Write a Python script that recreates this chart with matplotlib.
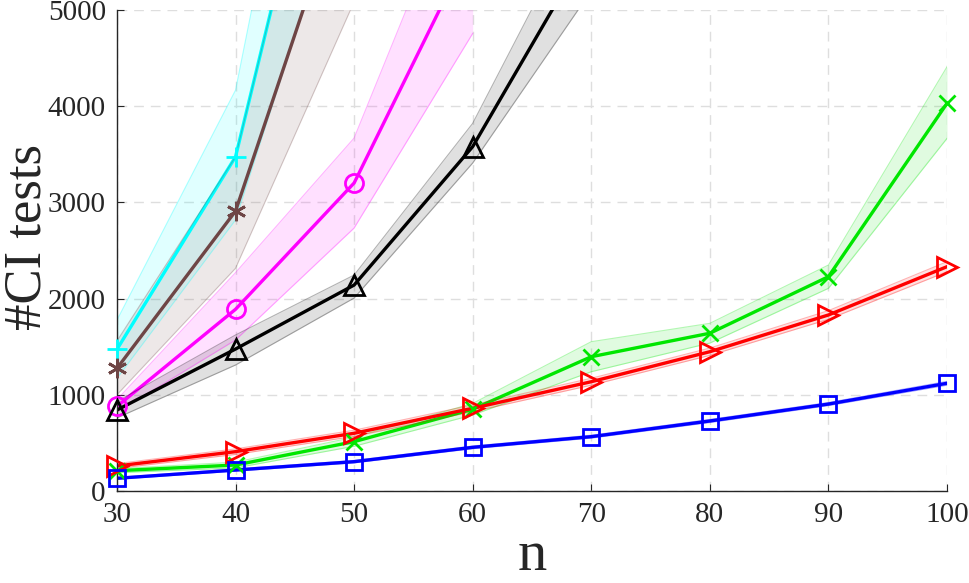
import numpy as np
import matplotlib
matplotlib.use("Agg")
from matplotlib import pyplot as plt

plt.rcParams["font.family"] = ["Liberation Serif", "DejaVu Serif"]

# data (mean, lower and upper edge of the shaded band)
n_full = [30, 40, 50, 60, 70, 80, 90, 100]

blue_mean = [132, 218, 305, 454, 565, 728, 904, 1120]
blue_lo = [122, 206, 292, 440, 550, 712, 888, 1100]
blue_hi = [142, 230, 318, 468, 580, 744, 920, 1140]

red_mean = [260, 409, 600, 860, 1136, 1448, 1830, 2332]
red_lo = [235, 380, 568, 825, 1100, 1410, 1785, 2280]
red_hi = [285, 438, 632, 895, 1172, 1486, 1875, 2384]

green_mean = [211, 270, 513, 850, 1396, 1640, 2228, 4030]
green_lo = [190, 240, 465, 790, 1240, 1538, 2107, 3666]
green_hi = [232, 300, 560, 910, 1552, 1743, 2349, 4410]

n_black = [30, 40, 50, 60, 70]
black_mean = [842, 1476, 2141, 3580, 5700]
black_lo = [760, 1310, 2006, 3410, 5200]
black_hi = [930, 1622, 2245, 3822, 6200]

n_magenta = [30, 40, 50, 60]
magenta_mean = [880, 1889, 3202, 5700]
magenta_lo = [820, 1570, 2734, 4757]
magenta_hi = [950, 2270, 3669, 6700]

n_cyan = [30, 40, 50]
cyan_mean = [1473, 3475, 8555]
cyan_lo = [1170, 2817, 6650]
cyan_hi = [1777, 4168, 10320]

brown_mean = [1275, 2910, 6577]
brown_lo = [1000, 2315, 5085]
brown_hi = [1560, 3475, 8555]

YMAX = 5000

series = [
    (n_cyan, cyan_mean, cyan_lo, cyan_hi, (0, 1, 1), "+", 15),
    (n_cyan, brown_mean, brown_lo, brown_hi, (0.43, 0.27, 0.27), (6, 2, 0), 14),
    (n_magenta, magenta_mean, magenta_lo, magenta_hi, (1, 0, 1), "o", 13),
    (n_black, black_mean, black_lo, black_hi, (0, 0, 0), "^", 15),
    (n_full, green_mean, green_lo, green_hi, (0, 0.9, 0), "x", 11),
    (n_full, red_mean, red_lo, red_hi, (1, 0, 0), ">", 15),
    (n_full, blue_mean, blue_lo, blue_hi, (0, 0, 1), "s", 11),
]

fig = plt.figure(figsize=(9.69, 5.83), dpi=100)
ax = fig.add_axes([0.1207, 0.1578, 0.8566, 0.825])

for xs, m, lo, hi, col, mk, ms in series:
    ax.fill_between(xs, lo, hi, color=col, alpha=0.12, linewidth=0)
    ax.plot(xs, lo, color=col, alpha=0.3, linewidth=0.8)
    ax.plot(xs, hi, color=col, alpha=0.3, linewidth=0.8)
    ax.plot(xs, m, color=col, linewidth=2.4)
    # markers are not clipped at the axes edge, only those inside the range are drawn
    xm = [x for x, v in zip(xs, m) if v <= YMAX]
    ym = [v for v in m if v <= YMAX]
    ax.plot(xm, ym, linestyle="none", marker=mk, markersize=ms,
            markerfacecolor="none", markeredgecolor=col, markeredgewidth=2.0,
            clip_on=False, zorder=3)

ax.set_xlim(30, 100)
ax.set_ylim(0, YMAX)
ax.set_xticks(range(30, 101, 10))
ax.set_yticks(range(0, 5001, 1000))

ax.grid(True, linestyle=(0, (7, 5)), color="#dedede", linewidth=1.0)
ax.set_axisbelow(True)

for s in ["top", "right"]:
    ax.spines[s].set_visible(False)
for s in ["left", "bottom"]:
    ax.spines[s].set_color("#262626")
    ax.spines[s].set_linewidth(1.0)

ax.tick_params(direction="in", length=5, width=0.8, colors="#262626",
               labelsize=21, pad=8)

ax.set_xlabel("n", fontsize=42, color="#262626")
ax.xaxis.set_label_coords(0.5, -0.081)
ax.set_ylabel("#CI tests", fontsize=38, color="#262626")
ax.yaxis.set_label_coords(-0.079, 0.529)

fig.savefig("out.png", dpi=100)
